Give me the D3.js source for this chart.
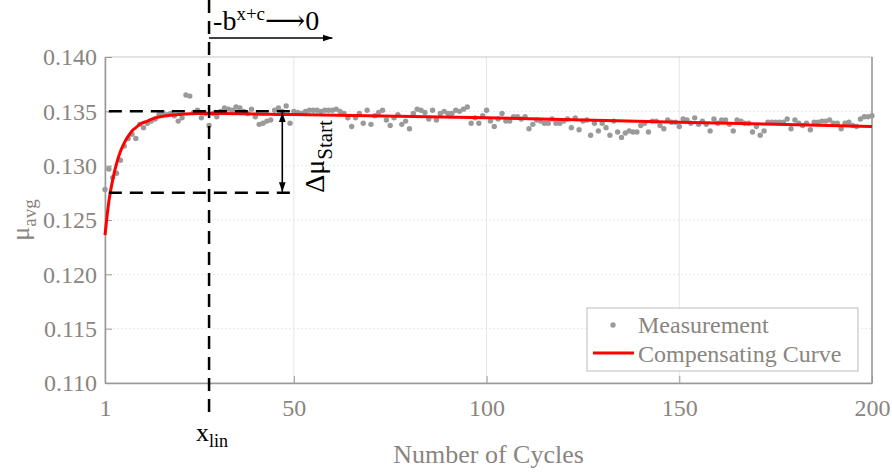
<!DOCTYPE html>
<html><head><meta charset="utf-8">
<script src="https://cdn.jsdelivr.net/npm/d3@7"></script>
<style>body{margin:0;background:#fff}svg{display:block}</style>
</head><body><div id="chart"></div>
<script>
// ---- data ----
const measurement = [
0.1278,0.1297,0.1289,0.1293,0.1305,0.1318,0.1325,0.1329,0.1325,0.1338,
0.1335,0.1339,0.1341,0.1343,0.1347,0.1349,0.1347,0.1348,0.1346,0.1341,
0.1344,0.1365,0.1364,0.1349,0.1351,0.1344,0.1348,0.1337,0.1348,0.1345,
0.1350,0.1353,0.1352,0.1351,0.1354,0.1353,0.1350,0.1348,0.1352,0.1345,
0.1338,0.1339,0.1341,0.1342,0.1351,0.1353,0.1350,0.1355,0.1339,0.1350,
0.1349,0.1348,0.1350,0.1351,0.1351,0.1351,0.1350,0.1351,0.1351,0.1351,
0.1352,0.1350,0.1348,0.1344,0.1336,0.1344,0.1348,0.1339,0.1351,0.1338,
0.1346,0.1349,0.1351,0.1342,0.1337,0.1344,0.1347,0.1338,0.1341,0.1334,
0.1348,0.1352,0.1351,0.1349,0.1343,0.1351,0.1342,0.1348,0.1350,0.1348,
0.1348,0.1351,0.1350,0.1352,0.1354,0.1339,0.1344,0.1339,0.1346,0.1351,
0.1341,0.1336,0.1343,0.1348,0.1341,0.1341,0.1345,0.1345,0.1343,0.1345,
0.1334,0.1338,0.1342,0.1341,0.1339,0.1339,0.1343,0.1339,0.1339,0.1341,
0.1343,0.1335,0.1344,0.1333,0.1341,0.1342,0.1328,0.1339,0.1332,0.1339,
0.1335,0.1328,0.1341,0.1331,0.1326,0.1330,0.1332,0.1331,0.1331,0.1337,
0.1339,0.1331,0.1341,0.1341,0.1337,0.1334,0.1342,0.1340,0.1340,0.1336,
0.1343,0.1342,0.1339,0.1344,0.1338,0.1341,0.1338,0.1332,0.1343,0.1339,
0.1342,0.1342,0.1338,0.1332,0.1342,0.1341,0.1339,0.1339,0.1331,0.1336,
0.1328,0.1332,0.1340,0.1340,0.1340,0.1340,0.1340,0.1343,0.1334,0.1342,
0.1339,0.1337,0.1339,0.1333,0.1340,0.1340,0.1341,0.1341,0.1342,0.1339,
0.1339,0.1334,0.1339,0.1340,0.1337,0.1336,0.1343,0.1345,0.1345,0.1346
];
const cycles = measurement.map((_, i) => i + 1);
const curveCycles = [1,2,3,4,5,6,7,8,9,10,12,14,17,20,25,30,50,100,150,200];
const curveValues = [0.1236,0.1267,0.1287,0.1302,0.1313,0.1321,0.1327,0.1332,0.1335,0.1338,
  0.1341,0.1344,0.1346,0.1347,0.1348,0.1348,0.1347,0.1344,0.1340,0.1336];
const xTicks = [1,50,100,150,200];
const yTicks = [0.110,0.115,0.120,0.125,0.130,0.135,0.140];
const xLin = 28;
const muTop = 0.135, muStart = 0.1275;
const dashFrom = 2, dashTo = 50, arrowCycle = 47, expArrowEnd = 60;
const legendLabels = ["Measurement","Compensating Curve"];

// ---- layout ----
const W = 892, H = 474;
const m = {left:105, right:20, top:57, bottom:91};
const FONT = "Liberation Serif, Tinos, Times New Roman, DejaVu Serif, Noto Serif, serif";
const GRAY = "#8a8580";

const svg = d3.select("#chart").append("svg").attr("width", W).attr("height", H)
  .attr("font-family", FONT);
const x = d3.scaleLinear().domain([1,200]).range([m.left, W - m.right]);
const y = d3.scaleLinear().domain([0.110,0.140]).range([H - m.bottom, m.top]);

const defs = svg.append("defs");
defs.append("marker").attr("id","ah").attr("viewBox","0 0 10 10").attr("refX",10).attr("refY",5)
  .attr("markerWidth",6).attr("markerHeight",6).attr("markerUnits","strokeWidth").attr("orient","auto-start-reverse")
  .append("path").attr("d","M0,1.5 L10,5 L0,8.5 Z").attr("fill","#000");

// grid
const g = svg.append("g");
g.selectAll(".gx").data(xTicks.slice(1,-1)).join("line")
  .attr("x1", d => x(d)).attr("x2", d => x(d)).attr("y1", y(0.110)).attr("y2", y(0.140))
  .attr("stroke","#e6e6e6").attr("stroke-width",1);
g.selectAll(".gy").data(yTicks.slice(1,-1)).join("line")
  .attr("x1", x(1)).attr("x2", x(200)).attr("y1", d => y(d)).attr("y2", d => y(d))
  .attr("stroke","#e6e6e6").attr("stroke-width",1).attr("stroke-dasharray","2,2");

// box
svg.append("rect").attr("x", x(1)).attr("y", y(0.140)).attr("width", x(200)-x(1)).attr("height", y(0.110)-y(0.140))
  .attr("fill","none").attr("stroke","#c8c8c8").attr("stroke-width",1);

// axes
const xAxis = svg.append("g").attr("transform", `translate(0,${y(0.110)})`)
  .call(d3.axisBottom(x).tickValues(xTicks).tickFormat(d3.format("d")).tickSizeInner(-7).tickSizeOuter(0).tickPadding(16));
const yAxis = svg.append("g").attr("transform", `translate(${x(1)},0)`)
  .call(d3.axisLeft(y).tickValues(yTicks).tickFormat(d3.format(".3f")).tickSizeInner(-7).tickSizeOuter(0).tickPadding(8));
[xAxis, yAxis].forEach(a => {
  a.attr("font-family", FONT).attr("font-size", 24);
  a.select(".domain").attr("stroke","#999").attr("stroke-width",1.5);
  a.selectAll(".tick line").attr("stroke","#999");
  a.selectAll("text").attr("fill", GRAY);
});

// right axis line
svg.append("line").attr("x1", x(200)).attr("x2", x(200)).attr("y1", y(0.110)).attr("y2", y(0.140)).attr("stroke","#999").attr("stroke-width",1.5);

// data points
svg.append("g").selectAll("circle").data(cycles).join("circle")
  .attr("cx", d => x(d)).attr("cy", (d,i) => y(measurement[i])).attr("r", 2.7).attr("fill","#9a9a9a");

// fitted curve
const line = d3.line().x(d => x(d[0])).y(d => y(d[1])).curve(d3.curveMonotoneX);
svg.append("path").datum(curveCycles.map((c,i) => [c, curveValues[i]]))
  .attr("d", line).attr("fill","none").attr("stroke","#ff0000").attr("stroke-width",3);

// annotations
const ann = svg.append("g");
const dash = "13,8";
ann.append("line").attr("x1", x(xLin)).attr("x2", x(xLin)).attr("y1", 0).attr("y2", 414)
  .attr("stroke","#000").attr("stroke-width",2.5).attr("stroke-dasharray", dash);
[muTop, muStart].forEach(v => ann.append("line").attr("x1", x(dashFrom)).attr("x2", x(dashTo))
  .attr("y1", y(v)).attr("y2", y(v)).attr("stroke","#000").attr("stroke-width",2.5).attr("stroke-dasharray", dash));
ann.append("line").attr("x1", x(arrowCycle)).attr("x2", x(arrowCycle)).attr("y1", y(muTop)+1).attr("y2", y(muStart)-1)
  .attr("stroke","#000").attr("stroke-width",1.6).attr("marker-start","url(#ah)").attr("marker-end","url(#ah)");
// delta mu start label
const dl = ann.append("text").attr("transform", `translate(${x(arrowCycle)+42},${y(muStart)}) rotate(-90)`)
  .attr("fill","#000").attr("font-size",28);
dl.append("tspan").text("Δμ");
dl.append("tspan").attr("dy", 8).attr("font-size",21).text("Start");

// top exponential arrow
const topY = 38;
ann.append("line").attr("x1", x(xLin)).attr("x2", x(expArrowEnd)).attr("y1", topY).attr("y2", topY)
  .attr("stroke","#000").attr("stroke-width",1.6).attr("marker-end","url(#ah)");
const tt = ann.append("text").attr("x", x(xLin)+4).attr("y", 30).attr("fill","#000").attr("font-size",28);
tt.append("tspan").text("-b");
tt.append("tspan").attr("dy",-10).attr("font-size",19).text("x+c");
tt.append("tspan").attr("dy",10).text("⟶0");

// x_lin label
const xl = ann.append("text").attr("x", x(xLin)-13).attr("y", 441).attr("fill","#000").attr("font-size",26);
xl.append("tspan").text("x");
xl.append("tspan").attr("dy",6).attr("font-size",18).text("lin");

// axis titles
svg.append("text").attr("x", (x(1)+x(200))/2).attr("y", 463).attr("text-anchor","middle")
  .attr("fill", GRAY).attr("font-size",26).text("Number of Cycles");
const yl = svg.append("text").attr("transform", `translate(29,${(y(0.110)+y(0.140))/2}) rotate(-90)`)
  .attr("text-anchor","middle").attr("fill", GRAY).attr("font-size",26);
yl.append("tspan").text("μ");
yl.append("tspan").attr("dy",7).attr("font-size",19).text("avg");

// legend
const lg = svg.append("g");
lg.append("rect").attr("x",587).attr("y",308).attr("width",271).attr("height",63)
  .attr("fill","#fff").attr("stroke","#bbb").attr("stroke-width",1);
lg.append("circle").attr("cx",613).attr("cy",325).attr("r",2.7).attr("fill","#9a9a9a");
lg.append("line").attr("x1",593).attr("x2",634).attr("y1",353).attr("y2",353).attr("stroke","#ff0000").attr("stroke-width",3);
lg.selectAll(".lt").data(legendLabels).join("text").attr("x",638).attr("y",(d,i)=>333+i*29)
  .attr("fill", GRAY).attr("font-size",24).text(d => d);
</script></body></html>
